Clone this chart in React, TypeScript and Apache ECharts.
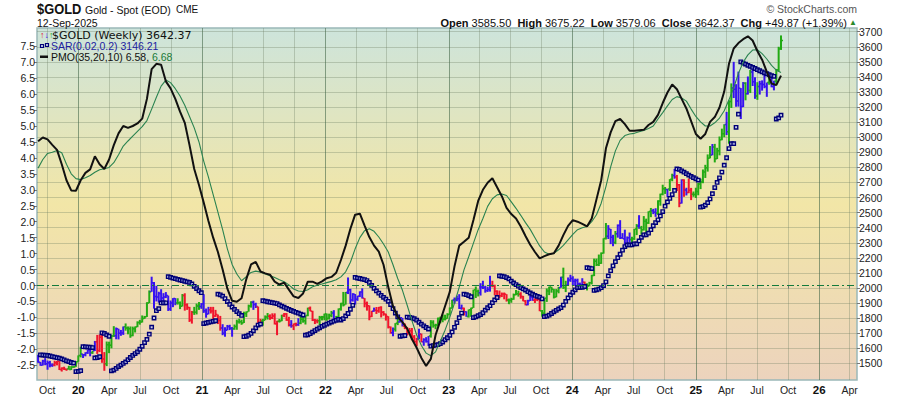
import React, { useEffect, useRef } from 'react';
import * as echarts from 'echarts';

const FONT = '"Liberation Sans", Arial, Helvetica, sans-serif';
const START = Date.UTC(2019, 8, 4);
const WEEK = 7 * 24 * 3600 * 1000;
const X_MIN = Date.UTC(2019, 7, 31, 19);
const X_MAX = Date.UTC(2026, 3, 22, 19);

const opens = [
  1529,1507,1488,1516,1497,1505,1488,1490,1505,1514,
  1459,1468,1462,1463,1460,1476,1478,1511,1552,1562,
  1557,1571,1589,1570,1584,1643,1585,1674,1530,1498,
  1623,1620,1681,1683,1729,1700,1702,1743,1734,1730,
  1685,1730,1743,1771,1775,1798,1810,1901,1975,2035,
  1944,1940,1964,1934,1940,1950,1861,1900,1930,1900,
  1902,1879,1951,1889,1871,1788,1839,1839,1881,1878,
  1895,1850,1828,1856,1847,1814,1824,1784,1734,1700,
  1720,1745,1733,1729,1744,1777,1777,1768,1831,1843,
  1881,1905,1891,1877,1764,1781,1787,1808,1812,1802,
  1814,1763,1780,1781,1817,1827,1788,1754,1750,1761,
  1757,1767,1793,1783,1818,1865,1846,1788,1783,1783,
  1805,1808,1829,1797,1817,1835,1791,1808,1860,1898,
  1889,1970,1988,1921,1958,1925,1945,1974,1932,1897,
  1883,1811,1846,1853,1850,1871,1840,1827,1811,1742,
  1703,1727,1766,1775,1802,1747,1737,1712,1716,1675,
  1644,1661,1695,1644,1657,1645,1681,1771,1751,1754,
  1797,1797,1793,1798,1824,1866,1920,1926,1928,1865,
  1865,1842,1811,1856,1868,1989,1978,1969,2007,2004,
  1983,1990,2017,2011,1978,1946,1948,1961,1958,1921,
  1919,1925,1955,1962,1959,1943,1914,1889,1915,1940,
  1919,1924,1925,1849,1833,1932,1981,2006,1992,1940,
  1981,2002,2072,2004,2019,2053,2063,2045,2049,2029,
  2018,2039,2024,2013,2035,2083,2178,2155,2165,2230,
  2329,2344,2392,2337,2302,2360,2415,2334,2327,2293,
  2333,2322,2326,2391,2411,2400,2387,2443,2431,2507,
  2512,2503,2497,2577,2622,2658,2653,2656,2721,2747,
  2736,2685,2563,2716,2650,2633,2648,2622,2621,2640,
  2690,2703,2770,2798,2861,2882,2936,2857,2910,2984,
  3023,3085,3037,3237,3327,3318,3240,3325,3204,3358,
  3289,3310,3432,3368,3274,3337,3355,3350,3337,3363,
  3398,3336,3372,3448,3585.5
];
const highs = [
  1557,1510,1524,1535,1519,1517,1500,1518,1517,1515,
  1474,1478,1466,1484,1482,1482,1514,1553,1611,1563,
  1574,1590,1592,1584,1649,1689,1692,1703,1575,1645,
  1644,1690,1747,1738,1730,1722,1745,1765,1745,1745,
  1744,1745,1779,1789,1818,1815,1906,1984,2075,2040,
  2015,1975,1992,1966,1973,1950,1917,1933,1933,1932,
  1911,1960,1965,1898,1875,1848,1875,1897,1907,1900,
  1959,1864,1875,1875,1875,1855,1824,1815,1760,1740,
  1755,1756,1741,1758,1790,1797,1790,1843,1845,1890,
  1912,1916,1903,1877,1795,1795,1818,1834,1825,1832,
  1832,1783,1795,1823,1834,1834,1809,1787,1765,1770,
  1800,1814,1810,1818,1870,1877,1849,1795,1793,1815,
  1815,1830,1831,1830,1848,1853,1815,1865,1902,1974,
  1974,2070,1995,1966,1960,1949,1978,1998,1933,1910,
  1885,1849,1870,1874,1875,1879,1847,1830,1813,1745,
  1738,1767,1795,1807,1802,1765,1740,1735,1735,1688,
  1670,1730,1698,1667,1674,1682,1787,1786,1763,1804,
  1810,1824,1823,1833,1871,1922,1937,1949,1959,1890,
  1870,1846,1858,1870,1989,2010,1990,2032,2048,2015,
  2009,2081,2048,2022,1985,1983,1970,1970,1959,1930,
  1935,1963,1987,1982,1972,1948,1920,1922,1953,1946,
  1932,1940,1935,1854,1933,1997,2009,2008,1993,1993,
  2008,2075,2135,2048,2070,2088,2078,2062,2062,2036,
  2065,2043,2031,2041,2088,2195,2195,2222,2236,2330,
  2431,2417,2392,2353,2378,2422,2450,2364,2387,2342,
  2368,2340,2392,2424,2483,2412,2477,2460,2509,2531,
  2525,2529,2582,2626,2685,2670,2658,2722,2758,2790,
  2750,2690,2721,2721,2665,2726,2664,2640,2665,2697,
  2725,2786,2817,2886,2942,2955,2956,2930,3005,3057,
  3086,3168,3245,3357,3500,3352,3435,3326,3366,3365,
  3403,3446,3452,3398,3365,3374,3377,3420,3363,3409,
  3404,3375,3453,3600,3675.22
];
const lows = [
  1504,1484,1486,1488,1458,1474,1477,1481,1487,1456,
  1446,1456,1451,1459,1456,1470,1477,1511,1540,1536,
  1547,1563,1547,1563,1582,1563,1575,1504,1451,1482,
  1568,1600,1675,1660,1659,1683,1689,1717,1693,1670,
  1680,1705,1740,1757,1771,1795,1808,1900,1975,1863,
  1911,1903,1902,1906,1933,1848,1848,1873,1886,1890,
  1860,1877,1850,1855,1775,1764,1822,1825,1855,1862,
  1835,1803,1825,1831,1785,1808,1761,1717,1687,1677,
  1719,1721,1677,1723,1723,1764,1756,1768,1808,1843,
  1870,1855,1868,1761,1761,1750,1786,1791,1789,1794,
  1758,1687,1771,1780,1807,1782,1745,1737,1721,1746,
  1749,1760,1770,1758,1813,1846,1781,1761,1766,1753,
  1785,1786,1783,1792,1806,1788,1788,1807,1850,1878,
  1890,1960,1895,1910,1890,1915,1940,1930,1872,1850,
  1786,1807,1843,1828,1836,1805,1816,1784,1732,1697,
  1680,1711,1754,1771,1745,1727,1685,1690,1654,1640,
  1614,1660,1640,1617,1638,1616,1671,1737,1727,1744,
  1766,1773,1785,1796,1822,1866,1896,1912,1861,1856,
  1818,1809,1804,1809,1868,1934,1944,1950,1993,1969,
  1974,1976,2005,1952,1937,1932,1940,1925,1910,1893,
  1902,1922,1952,1943,1929,1912,1885,1885,1914,1915,
  1901,1913,1846,1810,1823,1908,1953,1969,1931,1938,
  1965,2002,1994,1973,2016,2041,2017,2013,2005,2010,
  2012,2015,1984,2011,2024,2079,2146,2146,2160,2228,
  2322,2325,2291,2277,2291,2334,2325,2326,2286,2286,
  2303,2293,2319,2351,2393,2353,2381,2364,2425,2470,
  2490,2472,2485,2546,2615,2624,2603,2643,2708,2725,
  2643,2536,2560,2605,2614,2629,2583,2605,2597,2615,
  2656,2695,2730,2772,2860,2880,2833,2855,2880,2980,
  3000,3015,2957,3194,3260,3202,3203,3121,3200,3245,
  3283,3293,3340,3255,3248,3283,3309,3325,3268,3348,
  3331,3311,3351,3436,3579.06
];
const closes = [
  1507,1488,1516,1497,1505,1488,1490,1505,1514,1459,
  1468,1462,1463,1460,1476,1478,1511,1552,1562,1557,
  1571,1589,1570,1584,1643,1585,1674,1530,1498,1623,
  1620,1681,1683,1729,1700,1702,1743,1734,1730,1685,
  1730,1743,1771,1775,1798,1810,1901,1975,2035,1944,
  1940,1964,1934,1940,1950,1861,1900,1930,1900,1902,
  1879,1951,1889,1871,1788,1839,1839,1881,1878,1895,
  1850,1828,1856,1847,1814,1824,1784,1734,1700,1720,
  1745,1733,1729,1744,1777,1777,1768,1831,1843,1881,
  1905,1891,1877,1764,1781,1787,1808,1812,1802,1814,
  1763,1780,1781,1817,1827,1788,1754,1750,1761,1757,
  1767,1793,1783,1818,1865,1846,1788,1783,1783,1805,
  1808,1829,1797,1817,1835,1791,1808,1860,1898,1889,
  1970,1988,1921,1958,1925,1945,1974,1932,1897,1883,
  1811,1846,1853,1850,1871,1840,1827,1811,1742,1703,
  1727,1766,1775,1802,1747,1737,1712,1716,1675,1644,
  1661,1695,1644,1657,1645,1681,1771,1751,1754,1797,
  1797,1793,1798,1824,1866,1920,1926,1928,1865,1865,
  1842,1811,1856,1868,1989,1978,1969,2007,2004,1983,
  1990,2017,2011,1978,1946,1948,1961,1958,1921,1919,
  1925,1955,1962,1959,1943,1914,1889,1915,1940,1919,
  1924,1925,1849,1833,1932,1981,2006,1992,1940,1981,
  2002,2072,2004,2019,2053,2063,2045,2049,2029,2018,
  2039,2024,2013,2035,2083,2178,2155,2165,2230,2329,
  2344,2392,2337,2302,2360,2415,2334,2327,2293,2333,
  2322,2326,2391,2411,2400,2387,2443,2431,2507,2512,
  2503,2497,2577,2622,2658,2653,2656,2721,2747,2736,
  2685,2563,2716,2650,2633,2648,2622,2621,2640,2690,
  2703,2770,2798,2861,2882,2936,2857,2910,2984,3023,
  3085,3037,3237,3327,3318,3240,3325,3204,3358,3289,
  3310,3432,3368,3274,3337,3355,3350,3337,3363,3398,
  3336,3372,3448,3592.5,3642.37
];
// g = green, r = red, b = blue (impulse colouring), one letter per weekly bar
const impulse =
  "bbbbbbbrrr" + "rrrggggggb" + "bbbgbrrrrg" + "gggbbbbggg" + "ggggggggbb" +
  "bbbbbbbbbg" + "ggrrrrgggb" + "bbbrrrrrbb" + "bbbggggggg" + "gbbrrgggrr" +
  "rrggrrrbrr" + "bggggrrrrg" + "gggggbgggg" + "gbbbbbbbrr" + "rrbrrrrrrr" +
  "bggbbrrrrr" + "rbrbbbgggg" + "ggggggbbbb" + "rbgggggbbb" + "bbrrrrrrrg" +
  "ggggrrrbbb" + "rrrggggggg" + "gbggbbbbbb" + "brgggggggg" + "gbbbgbbbbb" +
  "bgggbggggg" + "bbggggbggb" + "rrbrbrrggg" + "gggggbgggg" + "gbggbbbbbg" +
  "bgbbgbbbbg" + "bbggg";

const sar = [
  null,1557,1555,1554,1553,1549,1545,1542,1538,1535,
  1530,1524,1517,1512,1506,1502,1446,1447,1452,1611,
  1610,1608,1607,1605,1536,1538,1544,1703,1699,1689,
  1680,1451,1456,1467,1479,1489,1500,1510,1525,1539,
  1553,1565,1577,1594,1613,1638,1659,1694,1740,1801,
  1850,1863,1901,1902,1902,2075,2071,2066,2062,2057,
  2053,2049,2045,2041,2037,2027,2011,1996,1982,1969,
  1764,1768,1772,1776,1779,1783,1959,1955,1946,1930,
  1910,1891,1874,1858,1844,1830,1818,1677,1680,1687,
  1699,1716,1736,1754,1761,1916,1913,1909,1906,1903,
  1900,1897,1888,1880,1873,1865,1858,1851,1845,1839,
  1833,1827,1821,1687,1690,1697,1708,1718,1727,1736,
  1745,1753,1760,1767,1774,1780,1786,1792,1788,1797,
  1815,1831,1859,1885,2070,2066,2063,2059,2056,2049,
  2037,2017,1998,1981,1966,1951,1938,1926,1912,1890,
  1863,1834,1809,1680,1683,1685,1807,1805,1802,1796,
  1787,1773,1760,1749,1738,1728,1614,1618,1621,1624,
  1631,1642,1657,1670,1686,1709,1739,1770,1803,1834,
  1959,1956,1950,1942,1804,1808,1816,1824,1836,1853,
  1869,1883,1903,1921,1937,2081,2078,2075,2069,2060,
  2046,2034,2023,2012,2003,1994,1986,1976,1967,1959,
  1951,1945,1939,1928,1810,1813,1820,1831,1842,1852,
  1861,1870,1887,1911,1934,1954,1972,1988,2003,2005,
  2005,2010,2135,2132,2129,1984,1988,1992,2002,2016,
  2041,2080,2115,2147,2175,2201,2224,2251,2275,2286,
  2286,2286,2293,2293,2312,2336,2353,2353,2364,2387,
  2413,2434,2452,2478,2507,2543,2571,2594,2620,2647,
  2790,2787,2777,2768,2758,2749,2740,2732,2724,2716,
  2536,2540,2550,2566,2591,2626,2666,2700,2731,2769,
  2815,2864,2925,2957,2957,3066,3153,3500,3492,3485,
  3477,3470,3463,3456,3448,3441,3434,3427,3421,3415,
  3409,3404,3121,3128,3146.21
];

// PMO and its signal, one reading every second week
const pmo = [
  4.52,4.64,4.58,4.41,4.25,3.80,3.30,2.98,2.97,3.30,
  3.53,3.64,4.05,3.80,3.65,3.95,4.40,4.77,5.00,4.94,
  5.00,5.08,5.23,5.85,6.78,6.95,6.92,6.40,6.18,5.85,
  5.45,5.10,4.40,3.65,3.15,2.60,2.02,1.50,1.05,0.50,
  -0.10,-0.48,-0.51,-0.40,0.20,0.66,0.74,0.44,0.38,0.34,
  0.12,0.03,0.09,-0.13,-0.34,-0.39,-0.25,0.12,0.12,0.05,
  0.13,0.23,0.27,0.40,0.80,1.25,1.78,2.22,2.25,1.88,
  1.52,1.25,1.06,0.65,-0.05,-0.65,-0.98,-1.15,-1.35,-1.68,
  -1.95,-2.27,-2.52,-2.30,-1.55,-1.10,-0.65,-0.20,0.60,1.25,
  1.37,1.50,2.05,2.65,3.00,3.22,3.36,3.08,2.80,2.43,
  2.24,2.10,1.85,1.55,1.28,1.05,0.85,0.92,0.98,1.01,
  1.25,1.58,1.87,2.05,2.00,1.93,1.85,2.10,2.70,3.30,
  4.30,4.80,5.15,5.22,5.06,4.85,4.85,4.87,4.88,5.03,
  5.13,5.35,5.72,6.05,6.30,6.15,5.85,5.55,5.15,4.75,
  4.60,4.75,5.13,5.28,5.58,6.08,6.95,7.43,7.60,7.72,
  7.81,7.68,7.35,7.08,6.70,6.33,6.28,6.58
];
const pmoSignal = [
  3.68,3.95,4.14,4.18,4.23,4.16,3.80,3.50,3.35,3.32,
  3.38,3.45,3.55,3.63,3.66,3.70,3.85,4.10,4.37,4.53,
  4.68,4.83,4.98,5.17,5.53,5.90,6.25,6.44,6.36,6.17,
  5.94,5.65,5.30,4.94,4.50,3.90,3.40,2.85,2.30,1.75,
  1.15,0.66,0.36,0.15,0.28,0.41,0.45,0.42,0.36,0.31,
  0.25,0.18,0.12,0.02,-0.11,-0.17,-0.19,-0.13,-0.04,0.01,
  0.05,0.09,0.13,0.18,0.27,0.43,0.73,1.15,1.50,1.72,
  1.78,1.70,1.52,1.30,1.05,0.65,0.22,-0.15,-0.62,-1.10,
  -1.55,-1.88,-2.12,-2.20,-2.08,-1.75,-1.40,-1.00,-0.55,-0.05,
  0.49,0.90,1.33,1.75,2.10,2.48,2.72,2.84,2.87,2.82,
  2.62,2.42,2.20,1.97,1.76,1.50,1.24,1.05,0.98,1.01,
  1.12,1.26,1.43,1.60,1.75,1.81,1.85,2.00,2.22,2.58,
  3.10,3.72,4.22,4.55,4.70,4.75,4.77,4.82,4.86,4.92,
  5.00,5.22,5.42,5.63,5.83,5.92,5.88,5.78,5.53,5.30,
  5.13,5.00,5.00,5.10,5.25,5.48,5.82,6.20,6.65,7.00,
  7.23,7.38,7.39,7.27,7.10,6.90,6.75,6.68
];

const priceTicks = [1500,1600,1700,1800,1900,2000,2100,2200,2300,2400,2500,2600,2700,2800,2900,3000,3100,3200,3300,3400,3500,3600,3700];
const pmoTicks = [-2.5,-2,-1.5,-1,-0.5,0,0.5,1,1.5,2,2.5,3,3.5,4,4.5,5,5.5,6,6.5,7,7.5];
const quarterTicks = [
  Date.UTC(2019,9,1),
  Date.UTC(2020,0,1), Date.UTC(2020,3,1), Date.UTC(2020,6,1), Date.UTC(2020,9,1),
  Date.UTC(2021,0,1), Date.UTC(2021,3,1), Date.UTC(2021,6,1), Date.UTC(2021,9,1),
  Date.UTC(2022,0,1), Date.UTC(2022,3,1), Date.UTC(2022,6,1), Date.UTC(2022,9,1),
  Date.UTC(2023,0,1), Date.UTC(2023,3,1), Date.UTC(2023,6,1), Date.UTC(2023,9,1),
  Date.UTC(2024,0,1), Date.UTC(2024,3,1), Date.UTC(2024,6,1), Date.UTC(2024,9,1),
  Date.UTC(2025,0,1), Date.UTC(2025,3,1), Date.UTC(2025,6,1), Date.UTC(2025,9,1),
  Date.UTC(2026,0,1), Date.UTC(2026,3,1)
];
const quarterLabels = ['Oct','20','Apr','Jul','Oct','21','Apr','Jul','Oct','22','Apr','Jul','Oct','23','Apr','Jul','Oct','24','Apr','Jul','Oct','25','Apr','Jul','Oct','26','Apr'];

const COLORS: Record<string, string> = { g: '#22aa14', r: '#f0142c', b: '#3612f0' };

export default function App() {
  const ref = useRef<HTMLDivElement>(null);
  useEffect(() => {
    document.body.style.margin = '0';
    const chart = echarts.init(ref.current as HTMLDivElement, null, { renderer: 'svg' });

    const barData = closes.map((c, i) => [START + i * WEEK, opens[i], highs[i], lows[i], c, 'grb'.indexOf(impulse[i])]);
    const sarData: number[][] = [];
    sar.forEach((v, i) => { if (v != null) sarData.push([START + i * WEEK, v as number]); });
    const pmoData = pmo.map((v, k) => [START + 2 * k * WEEK, v]);
    const sigData = pmoSignal.map((v, k) => [START + 2 * k * WEEK, v]);
    const colorList = ['g', 'r', 'b'].map((k) => COLORS[k]);

    const labelFor = (val: number) => {
      let best = 0, bd = Infinity;
      quarterTicks.forEach((t, i) => { const d = Math.abs(t - val); if (d < bd) { bd = d; best = i; } });
      const s = quarterLabels[best];
      return /^\d/.test(s) ? '{y|' + s + '}' : s;
    };

    const option: any = {
      animation: false,
      grid: {
        left: 37, right: 43, top: 28, bottom: 16, show: true,
        backgroundColor: new echarts.graphic.LinearGradient(0, 0, 0, 1, [
          { offset: 0, color: '#cde4db' },
          { offset: 0.5, color: '#f2e6a7' },
          { offset: 1, color: '#ecd3bd' },
        ]),
        borderColor: '#9ab8b8', borderWidth: 1.5,
      },
      xAxis: {
        type: 'value', min: X_MIN, max: X_MAX,
        axisLine: { show: false },
        axisTick: { show: true, length: 3, customValues: quarterTicks, lineStyle: { color: '#777' } },
        axisLabel: {
          customValues: quarterTicks, margin: 4, fontSize: 10.5, color: '#222', fontFamily: FONT,
          formatter: (v: number) => labelFor(v),
          rich: { y: { fontWeight: 'bold', fontSize: 11.5, color: '#111', fontFamily: FONT } },
        },
        splitLine: {
          show: true,
          lineStyle: { color: ['rgba(105,125,95,0.32)', 'rgba(70,105,75,0.6)', 'rgba(105,125,95,0.32)', 'rgba(105,125,95,0.32)'], width: 1 },
        },
      },
      yAxis: [
        {
          type: 'value', position: 'right', min: 1389.9, max: 3724.5,
          axisLine: { show: false },
          axisTick: { show: true, length: 3, customValues: priceTicks, lineStyle: { color: '#777' } },
          axisLabel: {
            customValues: priceTicks, margin: 2, fontSize: 10.5, color: '#222', fontFamily: FONT,
            formatter: (v: number) => String(Math.round(v)),
          },
          splitLine: { show: true, lineStyle: { color: 'rgba(105,125,95,0.32)', width: 1 } },
        },
        {
          type: 'value', position: 'left', min: -2.962, max: 8.072,
          axisLine: { show: false },
          axisTick: { show: true, length: 3, customValues: pmoTicks, lineStyle: { color: '#777' } },
          axisLabel: {
            customValues: pmoTicks, margin: 2, fontSize: 10.5, color: '#222', fontFamily: FONT,
            formatter: (v: number) => v.toFixed(1),
          },
          splitLine: { show: false },
        },
      ],
      series: [
        {
          type: 'custom', name: 'bars', xAxisIndex: 0, yAxisIndex: 0, z: 2, clip: true,
          data: barData,
          renderItem: (params: any, api: any) => {
            const t = api.value(0);
            const pO = api.coord([t, api.value(1)]);
            const pH = api.coord([t, api.value(2)]);
            const pL = api.coord([t, api.value(3)]);
            const pC = api.coord([t, api.value(4)]);
            const col = colorList[api.value(5)];
            const x = pH[0];
            return {
              type: 'group',
              children: [
                { type: 'rect', shape: { x: x - 1, y: pH[1], width: 2, height: Math.max(1, pL[1] - pH[1]) }, style: { fill: col } },
                { type: 'rect', shape: { x: x - 2, y: pO[1] - 0.75, width: 1, height: 1.5 }, style: { fill: col } },
                { type: 'rect', shape: { x: x + 1, y: pC[1] - 0.75, width: 1, height: 1.5 }, style: { fill: col } },
              ],
            };
          },
        },
        {
          type: 'scatter', name: 'SAR', xAxisIndex: 0, yAxisIndex: 0, z: 3,
          symbol: 'rect', symbolSize: 3.4,
          itemStyle: { color: 'rgba(190,200,245,0.7)', borderColor: '#000078', borderWidth: 1.4, opacity: 1 },
          data: sarData, silent: true,
        },
        {
          type: 'line', name: 'signal', xAxisIndex: 0, yAxisIndex: 1, z: 4,
          showSymbol: false, data: sigData, lineStyle: { color: '#2a8350', width: 1.1 }, silent: true,
          markLine: {
            silent: true, symbol: 'none', label: { show: false },
            lineStyle: { color: '#137a3c', type: [7, 3, 2, 3], width: 1.2 },
            data: [{ yAxis: 0 }],
          },
        },
        {
          type: 'line', name: 'PMO', xAxisIndex: 0, yAxisIndex: 1, z: 5,
          showSymbol: false, data: pmoData, lineStyle: { color: '#111111', width: 2 }, silent: true,
        },
      ],
      graphic: [
        { type: 'text', x: 37, y: 9, scaleX: 0.86, style: { text: '$GOLD', font: 'bold 15px ' + FONT, fill: '#111', verticalAlign: 'middle' } },
        { type: 'text', x: 85, y: 9.5, style: { text: 'Gold - Spot (EOD)', font: '10.5px ' + FONT, fill: '#111', verticalAlign: 'middle' } },
        { type: 'text', x: 176, y: 9.5, style: { text: 'CME', font: '10px ' + FONT, fill: '#111', verticalAlign: 'middle' } },
        { type: 'text', x: 37, y: 22.5, style: { text: '12-Sep-2025', font: '10.5px ' + FONT, fill: '#111', verticalAlign: 'middle' } },
        { type: 'text', x: 857, y: 9, style: { text: '\u00A9 StockCharts.com', font: '10.5px ' + FONT, fill: '#555', align: 'right', verticalAlign: 'middle' } },
        {
          type: 'text', x: 847, y: 22.5,
          style: {
            text: '{b|Open} 3585.50  {b|High} 3675.22  {b|Low} 3579.06  {b|Close} 3642.37  {b|Chg} +49.87 (+1.39%)',
            font: '11px ' + FONT, fill: '#111', align: 'right', verticalAlign: 'middle',
            rich: { b: { fontWeight: 'bold', fontSize: 11, fontFamily: FONT, fill: '#111' } },
          },
        },
        { type: 'text', x: 849, y: 22, style: { text: '\u25B2', font: '8px ' + FONT, fill: '#2a8a2a', verticalAlign: 'middle' } },
        {
          type: 'text', x: 40, y: 35, z: 10,
          style: {
            text: '{r|\u2191}{b|\u2193}{g|\u2191}', font: 'bold 9px "DejaVu Sans"', verticalAlign: 'middle',
            rich: { r: { fill: '#e0102a', fontSize: 9, fontWeight: 'bold' }, b: { fill: '#3612f0', fontSize: 9, fontWeight: 'bold' }, g: { fill: '#22aa14', fontSize: 9, fontWeight: 'bold' } },
          },
        },
        { type: 'text', x: 52, y: 35, z: 10, style: { text: '$GOLD (Weekly) 3642.37', font: '11px "DejaVu Sans"', fill: '#111', verticalAlign: 'middle' } },
        { type: 'rect', z: 10, shape: { x: 40.5, y: 44.5, width: 3, height: 3 }, style: { fill: 'rgba(190,200,245,0.7)', stroke: '#000078', lineWidth: 1.2 } },
        { type: 'rect', z: 10, shape: { x: 45.5, y: 43.5, width: 3, height: 3 }, style: { fill: 'rgba(190,200,245,0.7)', stroke: '#000078', lineWidth: 1.2 } },
        { type: 'text', x: 51, y: 46, z: 10, style: { text: 'SAR(0.02,0.2) 3146.21', font: '10.5px ' + FONT, fill: '#1c1ca0', verticalAlign: 'middle' } },
        { type: 'rect', z: 10, shape: { x: 40, y: 55.5, width: 8, height: 2.5 }, style: { fill: '#111' } },
        {
          type: 'text', x: 51, y: 57, z: 10,
          style: {
            text: 'PMO(35,20,10) 6.58, {g|6.68}', font: '10.5px ' + FONT, fill: '#111', verticalAlign: 'middle',
            rich: { g: { fill: '#1a7a3a', fontSize: 10.5, fontFamily: FONT } },
          },
        },
      ],
    };
    chart.setOption(option);
    return () => chart.dispose();
  }, []);
  return <div ref={ref} style={{ width: 900, height: 396 }} />;
}
